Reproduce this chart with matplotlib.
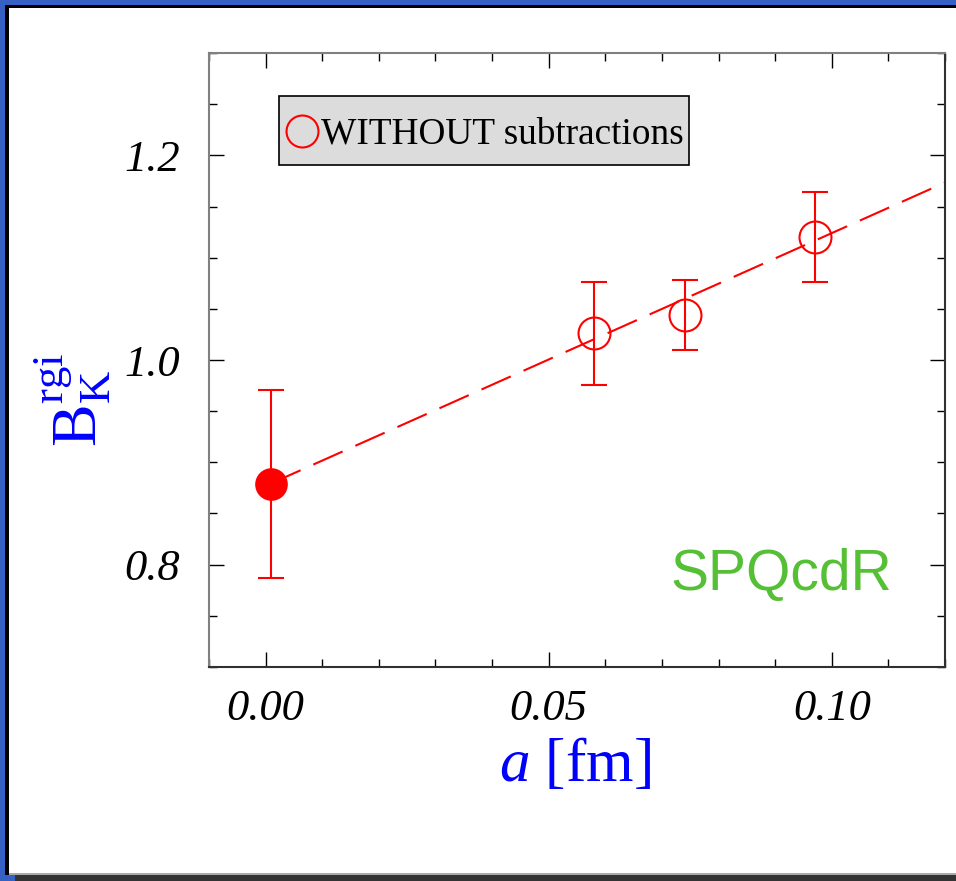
import matplotlib
matplotlib.use("Agg")
import matplotlib.pyplot as plt
from matplotlib.patches import Rectangle
from matplotlib.lines import Line2D
from matplotlib.ticker import MultipleLocator
import numpy as np

plt.rcParams['font.family'] = ['Liberation Serif', 'DejaVu Serif']
plt.rcParams['mathtext.fontset'] = 'custom'
plt.rcParams['mathtext.rm'] = 'Liberation Serif'
plt.rcParams['mathtext.it'] = 'Liberation Serif:italic'
plt.rcParams['mathtext.bf'] = 'Liberation Serif:bold'

# ---- data ----
a_sim = [0.058, 0.0741, 0.097]
bk_sim = [1.026, 1.044, 1.120]
bk_sim_err = [0.050, 0.034, 0.044]

a_cont = [0.001]
bk_cont = [0.879]
bk_cont_err = [0.092]

fit_intercept = 0.877
fit_slope = 2.47
fit_range = [0.001, 0.13]

legend_label = "WITHOUT subtractions"
collab_label = "SPQcdR"
xlim = (-0.01, 0.12)
ylim = (0.7, 1.3)
xticks = [0.00, 0.05, 0.10]
xticklabels = ["0.00", "0.05", "0.10"]
yticks = [0.8, 1.0, 1.2]
yticklabels = ["0.8", "1.0", "1.2"]

W, H = 956, 881
fig = plt.figure(figsize=(W / 100, H / 100), dpi=100)
fig.patch.set_facecolor('white')

# frame decoration
blue = '#3560c4'
def px_rect(x0, y0, w, h, color):
    fig.add_artist(Rectangle((x0 / W, 1 - (y0 + h) / H), w / W, h / H,
                             transform=fig.transFigure, color=color, lw=0, zorder=-5))
px_rect(0, 0, W, 5, blue)
px_rect(0, 0, 5, H, blue)
px_rect(5, 5, W - 5, 3, 'black')
px_rect(5, 5, 4, H - 5, 'black')
px_rect(9, 873, W - 9, 2, '#aaaaaa')
px_rect(9, 875, W - 9, 6, '#333333')
px_rect(0, 875, 15, 6, blue)

# axes
l, r, t, b = 209, 945, 53, 667
ax = fig.add_axes([l / W, 1 - b / H, (r - l) / W, (b - t) / H])
ax.set_xlim(*xlim)
ax.set_ylim(*ylim)

def ax_px(x, y):
    return ((x - l) / (r - l), (b - y) / (b - t))

red = '#ff0000'
fx = np.array(fit_range)
ax.plot(fx, fit_intercept + fit_slope * fx, color=red, lw=1.5,
        dashes=(15.4, 6.7), zorder=2)

ax.errorbar(a_sim, bk_sim, yerr=bk_sim_err, fmt='o', ms=23, mfc='none',
            mec=red, mew=1.5, ecolor=red, elinewidth=1.5, capsize=9.7,
            capthick=1.5, zorder=3)
ax.errorbar(a_cont, bk_cont, yerr=bk_cont_err, fmt='o', ms=22, mfc=red,
            mec=red, mew=1.5, ecolor=red, elinewidth=1.5, capsize=9.7,
            capthick=1.5, zorder=3)

# legend box (drawn by hand to match the reference padding)
x0, y0 = ax_px(279, 165)
x1, y1 = ax_px(689, 96)
ax.add_patch(Rectangle((x0, y0), x1 - x0, y1 - y0, transform=ax.transAxes,
                       facecolor='#dcdcdc', edgecolor='black', lw=1.2, zorder=5))
mx, my = ax_px(302, 131)
ax.add_line(Line2D([mx], [my], marker='o', ms=23, mfc='none', mec=red, mew=1.5,
                   transform=ax.transAxes, zorder=6))
tx, ty = ax_px(321, 143)
ax.text(tx, ty, legend_label, fontsize=26.8, family='Liberation Serif',
        ha='left', va='baseline', transform=ax.transAxes, zorder=6)

# ticks
ax.set_xticks(xticks)
ax.set_xticklabels(xticklabels)
ax.set_yticks(yticks)
ax.set_yticklabels(yticklabels)
ax.xaxis.set_minor_locator(MultipleLocator(0.01))
ax.yaxis.set_minor_locator(MultipleLocator(0.05))
ax.tick_params(which='both', direction='in', top=True, right=True, color='black', width=1)
ax.tick_params(which='major', length=11)
ax.tick_params(which='minor', length=6)
ax.tick_params(axis='x', which='major', pad=16)
ax.tick_params(axis='y', which='major', pad=21)
for lab in ax.get_xticklabels() + ax.get_yticklabels():
    lab.set_fontstyle('italic')
    lab.set_fontsize(32)

for side in ['left', 'top']:
    ax.spines[side].set_color('#808080')
    ax.spines[side].set_linewidth(1.5)
for side in ['right', 'bottom']:
    ax.spines[side].set_color('#303030')
    ax.spines[side].set_linewidth(1.5)

# labels
fig.text(575 / W, 1 - 766 / H, r'$a$ [fm]', color='#0000ff', fontsize=44,
         ha='center', va='center')
fig.text(73 / W, 1 - 400 / H, r'$\mathrm{B}_{\mathrm{K}}^{\mathrm{rgi}}$', color='#0000ff',
         fontsize=46, rotation=90, ha='center', va='center')

cx, cy = ax_px(892, 590)
ax.text(cx, cy, collab_label, color='#55c035',
        fontsize=41, family='Liberation Sans', ha='right', va='baseline',
        transform=ax.transAxes)

fig.savefig('out.png', dpi=100)
